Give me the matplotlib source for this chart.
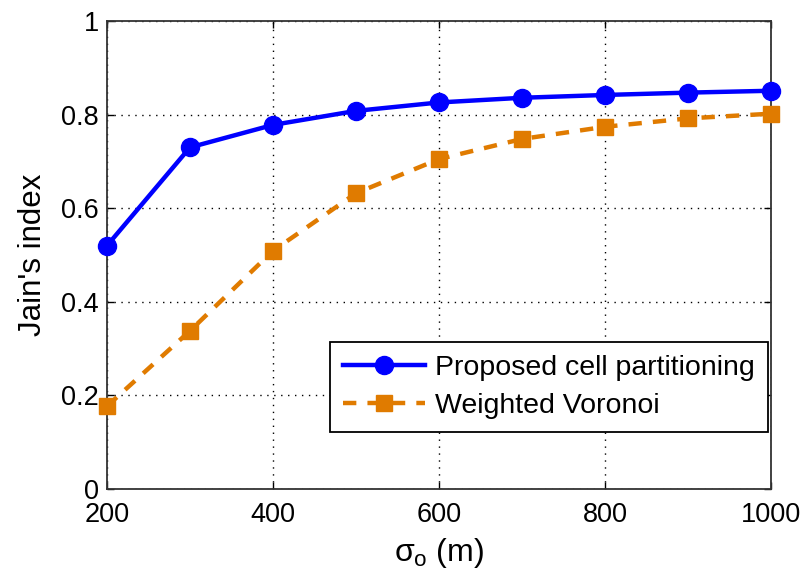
import matplotlib
matplotlib.use("Agg")
import matplotlib.pyplot as plt

plt.rcParams['font.family'] = ['Liberation Sans', 'DejaVu Sans']
plt.rcParams['mathtext.fontset'] = 'custom'
plt.rcParams['mathtext.rm'] = 'Liberation Sans'
plt.rcParams['mathtext.it'] = 'Liberation Sans'

sigma = [200, 300, 400, 500, 600, 700, 800, 900, 1000]
proposed = [0.52, 0.73, 0.778, 0.808, 0.826, 0.836, 0.842, 0.847, 0.851]
voronoi = [0.177, 0.338, 0.509, 0.632, 0.705, 0.748, 0.774, 0.792, 0.802]

xticks = [200, 400, 600, 800, 1000]
yticks = [0, 0.2, 0.4, 0.6, 0.8, 1]
yticklabels = ['0', '0.2', '0.4', '0.6', '0.8', '1']

blue = '#0000FF'
orange = '#E07B00'

fig = plt.figure(figsize=(8.05, 5.76), dpi=100)
ax = fig.add_axes([0.1329, 0.151, 0.8249, 0.8125])

ax.plot(sigma, proposed, '-', color=blue, lw=3.2, marker='o', ms=13,
        mfc=blue, mec=blue, label='Proposed cell partitioning',
        zorder=3, clip_on=False)
ax.plot(sigma, voronoi, '--', color=orange, lw=3.2, dashes=(3, 2.5),
        marker='s', ms=12, mfc=orange, mec=orange,
        label='Weighted Voronoi', zorder=3, clip_on=False)

ax.set_xlim(200, 1000)
ax.set_ylim(0, 1)
ax.set_xticks(xticks)
ax.set_xticklabels([str(t) for t in xticks])
ax.set_yticks(yticks)
ax.set_yticklabels(yticklabels)
ax.tick_params(direction='in', labelsize=19.5, length=5, width=1,
               top=True, right=True)
ax.tick_params(axis='x', pad=9)
ax.tick_params(axis='y', pad=6)
ax.grid(True, color='black', linestyle=(0, (1, 4)), linewidth=1)
for s in ax.spines.values():
    s.set_linewidth(1.3)
    s.set_color('#333333')

ax.set_xlabel(r'$\sigma_{\rm o}$ (m)', fontsize=23, labelpad=6)
ax.set_ylabel("Jain's index", fontsize=22.5, labelpad=9)

leg = ax.legend(loc='lower right', bbox_to_anchor=(0.995, 0.122),
                fontsize=20.5, handlelength=2.9, fancybox=False,
                framealpha=1, edgecolor='black', borderpad=0.45,
                labelspacing=0.42, handletextpad=0.35, borderaxespad=0)
leg.get_frame().set_linewidth(1.3)

fig.savefig('out.png', dpi=100)
